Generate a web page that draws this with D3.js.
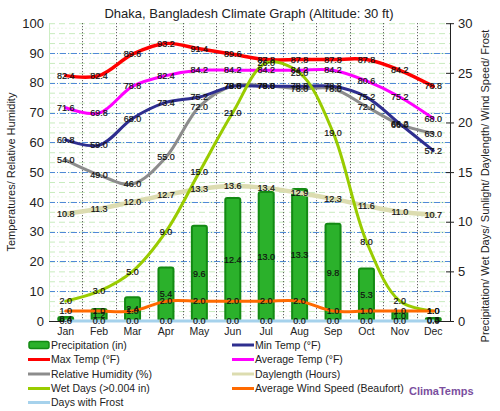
<!DOCTYPE html>
<html><head><meta charset="utf-8">
<script src="https://cdn.jsdelivr.net/npm/d3@7"></script>
<style>
html,body{margin:0;padding:0;background:#fff;}
svg{display:block;font-family:"Liberation Sans",Arial,sans-serif;}
</style></head>
<body>
<svg id="c" width="500" height="411"></svg>
<script>
const title = "Dhaka, Bangladesh Climate Graph (Altitude: 30 ft)";
const months = ["Jan","Feb","Mar","Apr","May","Jun","Jul","Aug","Sep","Oct","Nov","Dec"];
const precipitation = [0.4,1.2,2.4,5.4,9.6,12.4,13.0,13.3,9.8,5.3,1.0,0.3];
const maxTemp = [82.4,82.4,89.6,93.2,91.4,89.6,87.8,87.8,87.8,87.8,84.2,78.8];
const avgTemp = [71.6,69.8,78.8,82.4,84.2,84.2,84.2,84.2,84.2,80.6,75.2,68.0];
const minTemp = [60.8,59.0,68.0,73.4,75.2,78.8,78.8,78.8,78.8,75.2,66.2,57.2];
const humidity = [54.0,49.0,46.0,55.0,72.0,79.0,79.0,78.0,78.0,72.0,66.0,63.0];
const daylength = [10.8,11.3,12.0,12.7,13.3,13.6,13.4,12.9,12.3,11.6,11.0,10.7];
const wetDays = [2.0,3.0,5.0,9.0,15.0,21.0,26.0,25.0,19.0,8.0,2.0,1.0];
const windSpeed = [1.0,1.0,1.0,2.0,2.0,2.0,2.0,2.0,1.0,1.0,1.0,1.0];
const frostDays = [0,0,0,0,0,0,0,0,0,0,0,0];
const leftTicks = [0,10,20,30,40,50,60,70,80,90,100];
const rightTicks = [0,5,10,15,20,25,30];
const leftTitle = "Temperatures/ Relative Humidity";
const rightTitle = "Precipitation/ Wet Days/ Sunlight/ Daylength/ Wind Speed/ Frost";

const svg = d3.select("#c");
const L = 49, R = 450, T = 23.2, B = 321;
const x = d3.scaleBand().domain(months).range([L, R]).padding(0);
const yL = d3.scaleLinear().domain([0,100]).range([B, T]);
const yR = d3.scaleLinear().domain([0,30]).range([B, T]);
const cx = m => x(m) + x.bandwidth()/2;

// title
svg.append("text").attr("x", 249).attr("y", 17.5).attr("text-anchor","middle")
  .attr("font-size", 13).attr("fill", "#222").text(title);

const g = svg.append("g");
// minor faint grid (half units on right axis)
d3.range(0.5, 30, 1).forEach(v => {
  g.append("line").attr("x1", L).attr("x2", R).attr("y1", yR(v)).attr("y2", yR(v))
    .attr("stroke", "#e6f7e0").attr("stroke-width", 1).attr("stroke-dasharray", "2,2");
});
d3.range(0, 31, 1).forEach(v => {
  g.append("line").attr("x1", L).attr("x2", R).attr("y1", yR(v)+0.5).attr("y2", yR(v)+0.5)
    .attr("stroke", "#c8ecbe").attr("stroke-width", 1).attr("stroke-dasharray", "6,4");
});
leftTicks.filter(v => v > 0 && v < 100).forEach(v => {
  g.append("line").attr("x1", L).attr("x2", R).attr("y1", Math.round(yL(v))+0.5).attr("y2", Math.round(yL(v))+0.5)
    .attr("stroke", "#4f8ad6").attr("stroke-width", 1).attr("stroke-dasharray", "6,2,1,2");
});
// left border
g.append("line").attr("x1", L+0.5).attr("x2", L+0.5).attr("y1", T).attr("y2", B)
  .attr("stroke", "#cdeec4");
// vertical dotted separators
months.slice(1).forEach(m => {
  const xx = Math.round(x(m)) + 0.5;
  g.append("line").attr("x1", xx).attr("x2", xx).attr("y1", T).attr("y2", B)
    .attr("stroke", "#444").attr("stroke-width", 1).attr("stroke-dasharray", "1,2");
});

// bars
const bw = 15;
svg.append("g").selectAll("rect").data(precipitation).join("rect")
  .attr("x", (d,i) => cx(months[i]) - bw/2)
  .attr("y", d => yR(d))
  .attr("width", bw)
  .attr("height", d => B - yR(d))
  .attr("rx", 2)
  .attr("fill", "#2bb12b").attr("stroke", "#138a13").attr("stroke-width", 2);

// axes
svg.append("line").attr("x1", L).attr("x2", R).attr("y1", B+0.5).attr("y2", B+0.5).attr("stroke", "#222");
const rAxis = d3.axisRight(yR).tickValues(rightTicks).tickSize(4).tickPadding(4).tickFormat(d3.format("d"));
const ra = svg.append("g").attr("transform", `translate(${R},0)`).call(rAxis);
ra.select(".domain").attr("stroke", "#222").attr("d", `M0.5,${T}V${B}`);
ra.selectAll(".tick line").attr("x1", -4).attr("x2", 4).attr("stroke", "#222");
ra.selectAll(".tick text").attr("font-size", 13).attr("fill", "#222")
  .attr("font-family", "Liberation Sans, Arial, sans-serif").attr("x", 8);

const lAxis = d3.axisLeft(yL).tickValues(leftTicks).tickSize(0).tickPadding(5);
const la = svg.append("g").attr("transform", `translate(${L},0)`).call(lAxis);
la.select(".domain").remove();
la.selectAll(".tick text").attr("font-size", 13).attr("fill", "#222")
  .attr("font-family", "Liberation Sans, Arial, sans-serif");

const xAxis = d3.axisBottom(x).tickSize(0).tickPadding(7);
const xa = svg.append("g").attr("transform", `translate(0,${B})`).call(xAxis);
xa.select(".domain").remove();
xa.selectAll(".tick text").attr("font-size", 10.5).attr("fill", "#222")
  .attr("font-family", "Liberation Sans, Arial, sans-serif");

// axis titles
svg.append("text").attr("transform", `translate(15,${(T+B)/2}) rotate(-90)`)
  .attr("text-anchor","middle").attr("font-size", 11).attr("fill", "#222").text(leftTitle);
svg.append("text").attr("transform", `translate(489,186) rotate(-90)`)
  .attr("text-anchor","middle").attr("font-size", 11).attr("fill", "#222").text(rightTitle);

// lines
const series = [
  {vals: daylength, y: yR, color: "#dcdcb0", w: 4.5},
  {vals: humidity, y: yL, color: "#8c8c8c", w: 3},
  {vals: minTemp, y: yL, color: "#2e2e8f", w: 3},
  {vals: avgTemp, y: yL, color: "#ff00ff", w: 3},
  {vals: maxTemp, y: yL, color: "#ff0000", w: 3.5},
  {vals: wetDays, y: yR, color: "#99cc00", w: 3},
  {vals: windSpeed, y: yR, color: "#ff6a00", w: 3},
  {vals: frostDays, y: yR, color: "#a6d2ec", w: 3}
];
const lg = svg.append("g");
series.forEach(s => {
  const line = d3.line().x((d,i) => cx(months[i])).y(d => s.y(d)).curve(d3.curveCatmullRom.alpha(0.5));
  lg.append("path").datum(s.vals).attr("d", line).attr("fill","none")
    .attr("stroke", s.color).attr("stroke-width", s.w).attr("stroke-linecap","round").attr("stroke-linejoin","round");
});

// data labels
const lab = svg.append("g").attr("font-size", 9).attr("fill", "#111").attr("text-anchor","middle");
const fmt = d3.format(".1f");
function addLabels(vals, yScale, yFn) {
  vals.forEach((v,i) => {
    lab.append("text").attr("x", cx(months[i])).attr("y", yFn ? yFn(v) : yScale(v)).attr("dy", "0.35em")
      .attr("stroke", "#111").attr("stroke-width", 0.2).text(fmt(v));
  });
}
addLabels(precipitation, yR, v => (yR(v) + B) / 2);
addLabels(maxTemp, yL);
addLabels(avgTemp, yL);
addLabels(minTemp, yL);
addLabels(humidity, yL);
addLabels(daylength, yR);
addLabels(wetDays, yR);
addLabels(windSpeed, yR);
addLabels(frostDays, yR);

// legend
const legendItems = [
  {name: "Precipitation (in)", color: "#2bb12b", bar: true, col: 0, row: 0},
  {name: "Min Temp (°F)", color: "#2e2e8f", col: 1, row: 0},
  {name: "Max Temp (°F)", color: "#ff0000", col: 0, row: 1},
  {name: "Average Temp (°F)", color: "#ff00ff", col: 1, row: 1},
  {name: "Relative Humidity (%)", color: "#8c8c8c", col: 0, row: 2},
  {name: "Daylength (Hours)", color: "#dcdcb0", col: 1, row: 2},
  {name: "Wet Days (>0.004 in)", color: "#99cc00", col: 0, row: 3},
  {name: "Average Wind Speed (Beaufort)", color: "#ff6a00", col: 1, row: 3},
  {name: "Days with Frost", color: "#a6d2ec", col: 0, row: 4}
];
const rowY = [345, 359.5, 374, 388.5, 402.5];
const colX = [28, 232];
const leg = svg.append("g");
legendItems.forEach(it => {
  const x0 = colX[it.col], y0 = rowY[it.row];
  if (it.bar) {
    leg.append("rect").attr("x", x0+1).attr("y", y0-3.5).attr("width", 20).attr("height", 7).attr("rx", 2)
      .attr("fill", it.color).attr("stroke", "#138a13").attr("stroke-width", 1.5);
  } else {
    leg.append("line").attr("x1", x0).attr("x2", x0+22).attr("y1", y0).attr("y2", y0)
      .attr("stroke", it.color).attr("stroke-width", 3);
  }
  leg.append("text").attr("x", x0+23).attr("y", y0).attr("dy", "0.35em")
    .attr("font-size", 10.5).attr("fill", "#222").text(it.name);
});
svg.append("text").attr("x", 409).attr("y", 391).attr("dy","0.35em").attr("font-size", 11)
  .attr("font-weight","bold").attr("fill", "#7b4f9e").text("ClimaTemps");
</script>
</body></html>
